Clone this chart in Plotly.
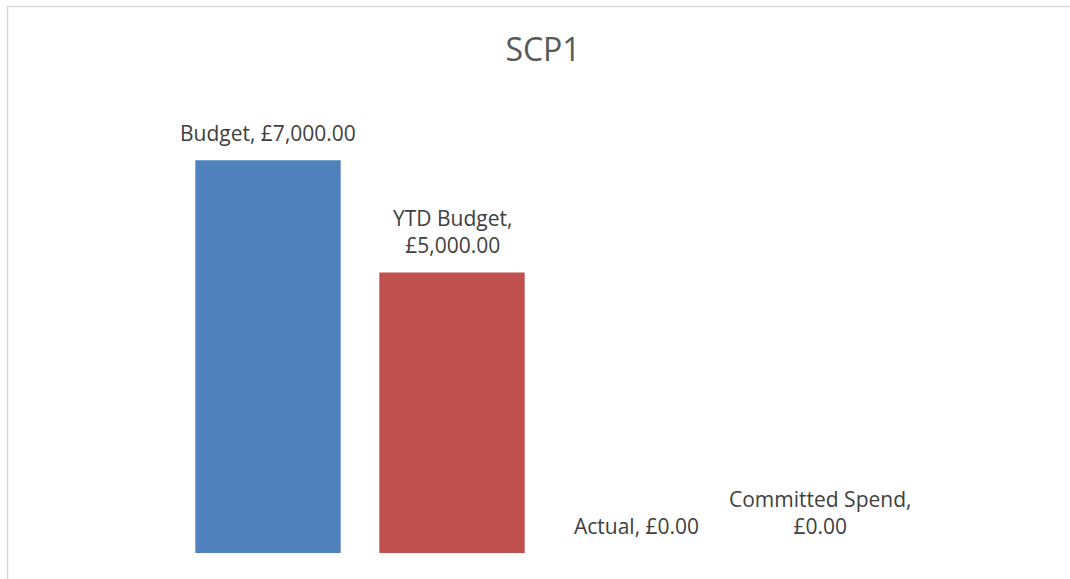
import plotly.graph_objects as go

categories = ["Budget", "YTD Budget", "Actual", "Committed Spend"]
values = [7000, 5000, 0, 0]
colors = ["#4F81BD", "#C0504D", "#4F81BD", "#4F81BD"]
label_texts = ["Budget, £7,000.00", "YTD Budget,<br>£5,000.00", "Actual, £0.00", "Committed Spend,<br>£0.00"]

W, H = 1070, 579
L, R, T, B = 176, 158, 104, 26

fig = go.Figure()
fig.add_trace(go.Bar(x=categories, y=values, marker=dict(color=colors, line=dict(width=0)),
                     hoverinfo="skip", showlegend=False))

for c, v, t in zip(categories, values, label_texts):
    fig.add_annotation(x=c, y=v, text=t, showarrow=False, yanchor="bottom", yshift=11,
                       font=dict(family="Open Sans", size=21, color="#404040"))

pw = W - L - R
ph = H - T - B
fig.add_shape(type="rect", xref="paper", yref="paper",
              x0=(7.5 - L) / pw, x1=(W + 10 - L) / pw,
              y0=(H - B - (H + 10)) / ph, y1=(H - B - 6.5) / ph,
              line=dict(color="#D9D9D9", width=1.5), layer="below")

fig.update_layout(
    width=W, height=H,
    margin=dict(l=L, r=R, t=T, b=B),
    paper_bgcolor="white", plot_bgcolor="white",
    bargap=0.21,
    title=dict(text="SCP1", x=543 / W, xanchor="center", y=1 - 50 / H, yanchor="middle",
               font=dict(family="Open Sans", size=32, color="#595959")),
    xaxis=dict(visible=False, range=[-0.5, 3.5]),
    yaxis=dict(visible=False, range=[0, 8000]),
)

fig.write_html("out.html", config={"displayModeBar": False},
               post_script="document.body.style.margin='0';document.body.style.overflow='hidden';")
